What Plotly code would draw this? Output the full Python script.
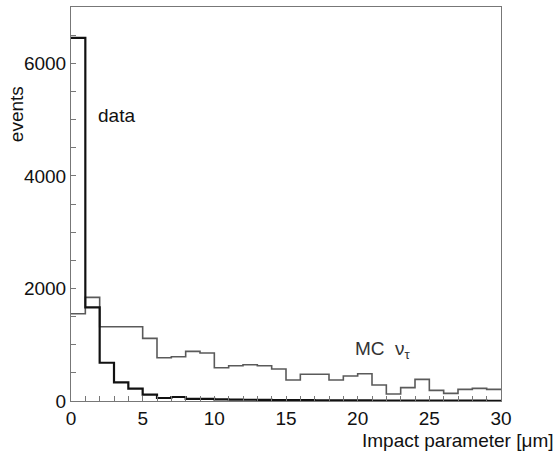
import plotly.graph_objects as go

# --- Data ---
bin_edges = list(range(0, 31))  # impact parameter bins, 1 um wide
data_counts = [6450, 1663, 680, 332, 219, 112, 53, 71, 36, 36,
               30, 25, 22, 20, 18, 15, 14, 12, 12, 10,
               10, 8, 8, 7, 6, 6, 5, 5, 5, 4]
mc_counts = [1550, 1841, 1320, 1320, 1320, 1113, 769, 787, 882, 852,
             591, 627, 645, 627, 568, 373, 474, 474, 373, 444,
             485, 284, 124, 237, 385, 189, 136, 207, 225, 207]

FONT = "Liberation Sans, Arial, Helvetica, sans-serif"

fig = go.Figure()

# MC nu_tau histogram (thin grey)
fig.add_trace(go.Scatter(
    x=bin_edges, y=mc_counts + [mc_counts[-1]],
    mode="lines", line=dict(shape="hv", color="#5a5a5a", width=1.6),
    name="MC", showlegend=False
))

# data histogram (thick black)
fig.add_trace(go.Scatter(
    x=bin_edges, y=data_counts + [data_counts[-1]],
    mode="lines", line=dict(shape="hv", color="#111111", width=2.2),
    name="data", showlegend=False
))

axis_common = dict(
    showline=True, linecolor="#777777", linewidth=1, mirror=True,
    ticks="inside", ticklen=5, tickcolor="#777777", tickwidth=1,
    showgrid=False, zeroline=False,
    tickfont=dict(family=FONT, size=19, color="#111111"),
)

fig.update_xaxes(range=[0, 30], tickvals=[0, 5, 10, 15, 20, 25, 30],
                 minor=dict(dtick=1, ticks="inside", ticklen=5, tickcolor="#777777"),
                 **axis_common)
fig.update_yaxes(range=[0, 7000], tickvals=[0, 2000, 4000, 6000],
                 minor=dict(dtick=500, ticks="inside", ticklen=5, tickcolor="#777777"),
                 **axis_common)

# text labels
fig.add_annotation(x=3.15, y=5080, text="data", showarrow=False,
                   font=dict(family=FONT, size=19, color="#111111"))
fig.add_annotation(x=21.8, y=900, text="MC  ν<sub>τ</sub>", showarrow=False,
                   font=dict(family=FONT, size=19, color="#333333"))
fig.add_annotation(xref="paper", yref="paper", x=1.127, y=-0.1,
                   xanchor="right", yanchor="middle",
                   text="Impact parameter [μm]", showarrow=False,
                   font=dict(family=FONT, size=19, color="#111111"))
fig.add_annotation(xref="paper", yref="paper", x=-0.128, y=0.728, textangle=-90,
                   xanchor="center", yanchor="middle",
                   text="events", showarrow=False,
                   font=dict(family=FONT, size=19, color="#111111"))

fig.update_layout(
    width=557, height=461,
    margin=dict(l=71, r=56, t=7, b=60),
    paper_bgcolor="white", plot_bgcolor="white",
)

# page body has a default 8px margin; drop it so the figure fills the window
fig.write_html("out.html", config={"displayModeBar": False},
               post_script="document.body.style.margin='0';")
